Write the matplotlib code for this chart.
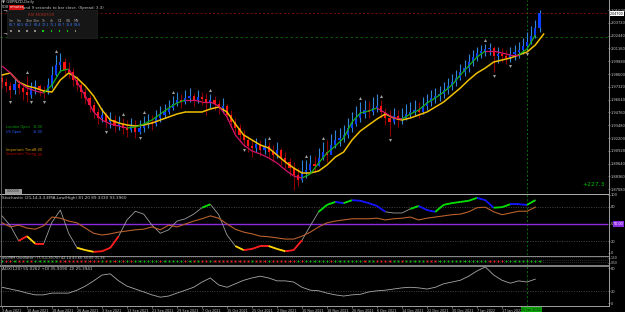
"""
GBPNZD daily chart, MetaTrader style: candles + 2 MAs, stochastic,
oscillator dots and ADX sub panels.
"""
import numpy as np
import matplotlib
matplotlib.use("Agg")
import matplotlib.pyplot as plt
from matplotlib.collections import LineCollection
from matplotlib.lines import Line2D
from matplotlib.patches import Rectangle

W, H = 625, 312
PLOT_R = 608          # right edge of chart area (px)
BAR_PX = 25 / 6.      # px per daily bar

#---------------------------------------------------------------- data
first_open = 1.982
bar_close = [1.978, 1.974, 1.970, 1.976, 1.972, 1.968, 1.965, 1.972, 1.974, 1.970,
             1.968, 1.975, 1.985, 1.995, 1.998, 1.990, 1.988, 1.980, 1.975, 1.968,
             1.962, 1.955, 1.948, 1.942, 1.945, 1.938, 1.940, 1.934, 1.936, 1.932,
             1.930, 1.934, 1.928, 1.932, 1.935, 1.938, 1.936, 1.942, 1.945, 1.948,
             1.952, 1.956, 1.960, 1.958, 1.962, 1.964, 1.960, 1.963, 1.961, 1.958,
             1.960, 1.956, 1.952, 1.954, 1.945, 1.938, 1.932, 1.925, 1.920, 1.914,
             1.912, 1.916, 1.910, 1.914, 1.908, 1.905, 1.910, 1.902, 1.898, 1.892,
             1.885, 1.880, 1.888, 1.890, 1.896, 1.894, 1.902, 1.908, 1.905, 1.915,
             1.920, 1.922, 1.925, 1.932, 1.936, 1.942, 1.946, 1.950, 1.948, 1.952,
             1.954, 1.948, 1.942, 1.938, 1.944, 1.940, 1.942, 1.946, 1.948, 1.950,
             1.948, 1.954, 1.958, 1.962, 1.964, 1.966, 1.970, 1.974, 1.978, 1.982,
             1.988, 1.992, 1.998, 2.003, 2.007, 2.009, 2.011, 2.012, 2.004, 2.006,
             2.004, 2.002, 2.006, 2.008, 2.010, 2.014, 2.018, 2.024, 2.032, 2.047]
bar_high = [1.986, 1.982, 1.978, 1.982, 1.980, 1.976, 1.984, 1.978, 1.980, 1.976,
            1.974, 1.982, 1.994, 2.005, 2.007, 2.002, 1.998, 1.992, 1.984, 1.978,
            1.972, 1.965, 1.958, 1.952, 1.952, 1.948, 1.948, 1.945, 1.944, 1.942,
            1.940, 1.942, 1.940, 1.940, 1.944, 1.946, 1.945, 1.950, 1.954, 1.956,
            1.960, 1.964, 1.968, 1.966, 1.970, 1.972, 1.967, 1.970, 1.968, 1.967,
            1.966, 1.964, 1.960, 1.962, 1.956, 1.950, 1.942, 1.936, 1.930, 1.924,
            1.920, 1.922, 1.920, 1.922, 1.918, 1.915, 1.918, 1.912, 1.908, 1.902,
            1.898, 1.892, 1.900, 1.900, 1.905, 1.904, 1.912, 1.918, 1.920, 1.926,
            1.930, 1.932, 1.935, 1.942, 1.948, 1.954, 1.958, 1.960, 1.959, 1.963,
            1.966, 1.960, 1.952, 1.950, 1.952, 1.950, 1.952, 1.956, 1.958, 1.960,
            1.958, 1.963, 1.966, 1.970, 1.972, 1.974, 1.978, 1.982, 1.986, 1.990,
            1.996, 2.000, 2.006, 2.010, 2.013, 2.015, 2.016, 2.017, 2.014, 2.013,
            2.012, 2.010, 2.013, 2.015, 2.018, 2.022, 2.028, 2.034, 2.040, 2.050]
bar_low = [1.972, 1.968, 1.962, 1.966, 1.966, 1.960, 1.958, 1.962, 1.966, 1.964,
           1.962, 1.966, 1.972, 1.984, 1.988, 1.984, 1.982, 1.974, 1.970, 1.962,
           1.956, 1.948, 1.942, 1.936, 1.938, 1.932, 1.932, 1.928, 1.930, 1.926,
           1.923, 1.928, 1.922, 1.926, 1.928, 1.932, 1.930, 1.934, 1.938, 1.942,
           1.946, 1.950, 1.954, 1.952, 1.956, 1.958, 1.954, 1.957, 1.955, 1.945,
           1.952, 1.950, 1.946, 1.947, 1.940, 1.932, 1.926, 1.918, 1.914, 1.908,
           1.903, 1.908, 1.904, 1.906, 1.902, 1.898, 1.902, 1.895, 1.890, 1.884,
           1.870, 1.874, 1.878, 1.882, 1.888, 1.888, 1.894, 1.900, 1.898, 1.906,
           1.912, 1.914, 1.918, 1.922, 1.928, 1.934, 1.938, 1.942, 1.942, 1.945,
           1.948, 1.942, 1.935, 1.924, 1.936, 1.933, 1.936, 1.940, 1.942, 1.944,
           1.942, 1.946, 1.950, 1.954, 1.957, 1.959, 1.962, 1.966, 1.970, 1.974,
           1.980, 1.984, 1.988, 1.994, 1.999, 2.002, 2.004, 2.005, 1.988, 1.997,
           1.998, 1.996, 1.998, 2.000, 2.002, 2.006, 2.010, 2.016, 2.022, 2.028]

# moving averages, read every 2nd bar
ma_fast = [1.994, 1.987, 1.978, 1.972, 1.969, 1.967, 1.975, 1.989, 1.991, 1.978,
           1.964, 1.948, 1.940, 1.936, 1.934, 1.932, 1.933, 1.936, 1.940, 1.946,
           1.952, 1.957, 1.960, 1.960, 1.958, 1.958, 1.954, 1.943, 1.925, 1.915,
           1.909, 1.906, 1.902, 1.897, 1.890, 1.884, 1.882, 1.886, 1.897, 1.907,
           1.914, 1.922, 1.938, 1.947, 1.949, 1.952, 1.947, 1.942, 1.941, 1.946,
           1.950, 1.957, 1.962, 1.968, 1.975, 1.985, 1.994, 2.003, 2.009, 2.009,
           2.007, 2.005, 2.005, 2.011, 2.025]
ma_slow = [1.985, 1.987, 1.978, 1.974, 1.972, 1.969, 1.968, 1.980, 1.987, 1.982,
           1.974, 1.964, 1.950, 1.940, 1.937, 1.935, 1.934, 1.935, 1.937, 1.940,
           1.943, 1.946, 1.948, 1.948, 1.948, 1.951, 1.953, 1.948, 1.936, 1.925,
           1.920, 1.915, 1.912, 1.905, 1.898, 1.892, 1.887, 1.887, 1.889, 1.895,
           1.903, 1.908, 1.920, 1.929, 1.935, 1.941, 1.946, 1.942, 1.940, 1.942,
           1.945, 1.948, 1.953, 1.958, 1.965, 1.972, 1.980, 1.987, 1.992, 1.998,
           2.000, 2.002, 2.005, 2.008, 2.015, 2.026]

up_fractals = [6, 13, 29, 34, 41, 50, 64, 73, 77, 86, 91, 116]
down_fractals = [2, 7, 10, 25, 33, 58, 93, 118, 122, 126]

# stochastic / ADX, read every 2nd bar
stoch_main = [64, 47, 21, 29, 16, 16, 53, 74, 34, 9,
              5, 2, 3, 9, 29, 57, 72, 67, 48, 34,
              40, 55, 59, 67, 78, 84, 66, 31, 12, 5,
              7, 12, 12, 7, 3, 5, 22, 47, 71, 83,
              88, 86, 91, 90, 86, 81, 71, 69, 69, 76,
              81, 74, 71, 83, 86, 88, 90, 95, 91, 78,
              79, 84, 84, 83, 91]
stoch_signal = [52, 45, 48, 43, 41, 47, 62, 60, 55, 52,
                43, 34, 31, 33, 36, 38, 40, 41, 45, 40,
                48, 45, 50, 55, 59, 64, 60, 50, 41, 36,
                33, 29, 28, 26, 24, 24, 29, 36, 45, 52,
                55, 57, 59, 59, 59, 60, 57, 59, 60, 62,
                57, 60, 62, 64, 66, 67, 71, 78, 79, 71,
                66, 69, 72, 72, 79]
adx_line = [27, 24, 21, 17, 14, 14, 17, 17, 17, 22,
            29, 38, 48, 50, 38, 29, 24, 19, 14, 10,
            12, 17, 22, 27, 36, 43, 31, 27, 33, 39,
            43, 46, 43, 38, 38, 36, 27, 22, 21, 17,
            14, 12, 14, 15, 19, 21, 22, 24, 26, 27,
            26, 24, 27, 33, 36, 39, 46, 55, 62, 48,
            39, 34, 38, 36, 41]
osc_dots = ("grrgrrgrgg" "ggggrrrrrr" "rrrrgrgrgr" "grggggggrg" "ggggrgrgrr"
            "grrrrrrrrr" "grrrgrrrrr" "rgrggggggr" "gggggggrgg" "rrrrggrggg"
            "ggrrrggggg" "gggggggrrr" "rggggggggg")

date_labels = ["3 Aug 2021", "10 Aug 2021", "18 Aug 2021", "26 Aug 2021", "3 Sep 2021",
               "13 Sep 2021", "21 Sep 2021", "29 Sep 2021", "7 Oct 2021", "15 Oct 2021",
               "25 Oct 2021", "2 Nov 2021", "10 Nov 2021", "18 Nov 2021", "26 Nov 2021",
               "6 Dec 2021", "14 Dec 2021", "22 Dec 2021", "30 Dec 2021", "7 Jan 2022",
               "17 Jan 2022"]
cursor_bar, cursor_label = 126, "25 Jan 2022"
price_ticks = [2.05000, 2.03720, 2.02440, 2.01160, 1.99880, 1.98600, 1.97320, 1.96040,
               1.94760, 1.93480, 1.92200, 1.90920, 1.89640, 1.88360, 1.87080]
last_price = 2.047
bid_line = 2.023

rsi_tf = ["1m", "5m", "15m", "30m", "1h", "4h", "D1", "W1", "MN"]
rsi_val = ["66.7", "64.5", "65.2", "68.4", "70.1", "75.1", "66.7", "76.8", "59.6"]
rsi_hot = [False, False, False, False, True, True, True, True, False]

#---------------------------------------------------------------- helpers
def fx(px): return px / W
def fy(py): return 1 - py / H

TXT = '#c8c8c8'
FS = 3.0      # general small text
FR = 2.6      # right-hand scale labels

fig = plt.figure(figsize=(W / 100, H / 100), dpi=100, facecolor='black')

def panel(top, bottom):
    ax = fig.add_axes([0, fy(bottom), fx(PLOT_R), (bottom - top) / H])
    ax.set_facecolor('black')
    ax.set_xlim(-2 / BAR_PX, (PLOT_R - 2) / BAR_PX)
    ax.set_xticks([])
    for s in ax.spines.values():
        s.set_visible(False)
    ax.yaxis.tick_right()
    ax.tick_params(axis='y', length=1.2, width=0.4, colors=TXT, labelsize=FR, pad=0.8)
    ax.axvline(cursor_bar, color='#0b7a0b', ls=(0, (2.5, 2.5)), lw=0.6, zorder=1)
    return ax

#---------------------------------------------------------------- main
ax = panel(0, 193)
ax.set_ylim(1.867, 2.060)
ax.set_yticks(price_ticks)
ax.set_yticklabels([f'{p:.5f}' for p in price_ticks])

bars = np.arange(len(bar_close))
c = np.array(bar_close)
o = np.r_[first_open, c[:-1]]
hi = np.array(bar_high)
lo = np.array(bar_low)
up = c >= o
for m, wick, body in [(up, '#2f86d8', '#0b3cff'), (~up, '#900000', '#ff1414')]:
    ax.vlines(bars[m], lo[m], hi[m], color=wick, lw=0.8, zorder=2)
    ax.bar(bars[m], np.maximum(np.abs(c - o)[m], 0.0008), bottom=np.minimum(o, c)[m],
           width=0.5, color=body, lw=0, zorder=2)

ax.axhline(last_price, color='#a01414', ls=(0, (3, 3)), lw=0.5, zorder=1)
ax.axhline(bid_line, color='#0b6a0b', ls=(0, (3, 3)), lw=0.6, zorder=1)

xs_slow = np.arange(0, 2 * len(ma_slow), 2)
ax.plot(xs_slow, ma_slow, color='#f0c000', lw=1.1, zorder=3)

xs_fast = np.arange(0, 2 * len(ma_fast), 2)
pts = np.column_stack([xs_fast, ma_fast])
segs = np.stack([pts[:-1], pts[1:]], axis=1)
cols = ['#16b016' if b > a else '#d0146c' for a, b in zip(ma_fast[:-1], ma_fast[1:])]
ax.add_collection(LineCollection(segs, colors=cols, lw=0.9, zorder=4))

ax.plot(up_fractals, hi[up_fractals] + 0.004, '^', ms=2.2, color='#a0a0a0', mew=0, zorder=5)
ax.plot(down_fractals, lo[down_fractals] - 0.004, 'v', ms=2.2, color='#a0a0a0', mew=0, zorder=5)

ax.text(1.003, last_price - 0.0005, f'{last_price:.5f}', transform=ax.get_yaxis_transform(),
        fontsize=2.3, color='black', va='center', ha='left', clip_on=False,
        bbox=dict(facecolor='white', edgecolor='none', pad=0.15))
ax.text(550, last_price, '-508.9 (3.3)', fontsize=4, color='#d8d8d8', va='center')
fig.text(fx(582), fy(184), '+227.3', fontsize=4.3, color='#00c000', va='center')

# header lines
fig.text(fx(2), fy(2.5), '\u25bc GBPNZD,Daily', fontsize=2.8, color=TXT, va='center')
fig.text(fx(2), fy(7.5), '508', fontsize=2.8, color=TXT, va='center')
fig.text(fx(9.5), fy(7.5), 'minutes', fontsize=2.5, color='white', va='center',
         bbox=dict(facecolor='#d01010', edgecolor='none', pad=0.3))
fig.text(fx(23), fy(7.5), 'and 9 seconds to bar close. (Spread: 3.3)', fontsize=2.8,
         color=TXT, va='center')
for py in (12, 35):
    fig.text(fx(2), fy(py), '\u00ac', fontsize=4, color='white', va='center')

# RSI monitor box
fig.add_artist(Rectangle((fx(7), fy(38)), fx(90), 28 / H, facecolor='#161616',
                         edgecolor='#262626', lw=0.4))
fig.text(fx(41), fy(15), 'RSI MONITOR', fontsize=2.8, color='#a8301c', ha='center', va='center')
for i, (tf, val, hot) in enumerate(zip(rsi_tf, rsi_val, rsi_hot)):
    px = 9 + i * 8.1
    fig.text(fx(px), fy(21), tf, fontsize=2.3, color='#a0a0a0', va='center')
    fig.text(fx(px), fy(25.5), val, fontsize=2.3, color='#3c78ff', va='center')
    fig.add_artist(Rectangle((fx(px + 1), fy(32)), fx(1.6), 1.6 / H,
                             facecolor='#10d010' if hot else '#8a8a8a', edgecolor='none'))

# session labels
for py, a, b, col in [(127, 'London Open', '18:00', '#10a010'),
                      (132, 'US Open', '15:00', '#2a5cff'),
                      (149.5, 'Important Time', '08:00', '#e0a000'),
                      (154.5, 'Important Time', '16:00', '#c00000')]:
    fig.text(fx(6), fy(py), a, fontsize=2.5, color=col, va='center')
    fig.text(fx(33), fy(py), b, fontsize=2.5, color=col, va='center')

fig.add_artist(Rectangle((fx(5), fy(194)), fx(17), 5 / H, facecolor='#9a9a9a', edgecolor='none'))
fig.text(fx(13.5), fy(191.5), '000000', fontsize=2.4, color='#303030', ha='center', va='center')

#---------------------------------------------------------------- stochastic
ax2 = panel(194, 255)
ax2.set_ylim(-3.45, 101.7)
ax2.set_yticks([0, 20, 50, 80, 100])
ax2.set_yticklabels(['0', '20', '50', '80', '100'])
for lv in (20, 80):
    ax2.axhline(lv, color='#5a5a5a', ls=(0, (1.5, 2)), lw=0.5)
ax2.axhline(50, color='#8a2be2', lw=1.0)
ax2.text(614 / PLOT_R, 50, '50.00', transform=ax2.get_yaxis_transform(), fontsize=2.4,
         color='white', va='center', ha='left', clip_on=False,
         bbox=dict(facecolor='#8a2be2', edgecolor='none', pad=0.4))

xs = np.arange(0, 2 * len(stoch_main), 2)
k = np.array(stoch_main, float)
ax2.plot(xs, k, color='#9c9c9c', lw=0.6)
ax2.plot(xs, stoch_signal, color='#b8602c', lw=0.8)
hsegs, hcols = [], []
for i in range(len(k) - 1):
    a, b = k[i], k[i + 1]
    if min(a, b) >= 70:
        hsegs.append([(xs[i], a), (xs[i + 1], b)])
        hcols.append('#00e000' if b > a else '#1010ff')
    elif max(a, b) <= 30:
        hsegs.append([(xs[i], a), (xs[i + 1], b)])
        hcols.append('#ffd400' if b < a else '#ff1a1a')
ax2.add_collection(LineCollection(hsegs, colors=hcols, lw=1.3, zorder=4))
fig.text(fx(2), fy(197.5), 'Stochastic (21,14,3,3,EMA,Low/High) 81.20 89.3330 93.3960',
         fontsize=FS, color=TXT, va='center')

#---------------------------------------------------------------- oscillator dots
ax3 = panel(256, 265)
ax3.set_ylim(0, 9)
ax3.set_yticks([7.5, 2.5])
ax3.set_yticklabels(['1.50', '0.50'])
ax3.tick_params(axis='y', labelsize=2.2)
for lv in (8, 5, 3):
    ax3.axhline(lv, color='#5a5a5a', ls=(0, (1.5, 2)), lw=0.4)
dot_col = np.array(['#ff2020' if d == 'r' else '#10c010' for d in osc_dots])
ax3.scatter(np.arange(len(osc_dots)), np.full(len(osc_dots), 4.0), marker='+', s=2.5,
            c=dot_col, linewidths=0.6, zorder=3)
fig.text(fx(2), fy(257.6), 'osc/MM Oscillator : (7,3,1,30,70) 42.14 43.60 30.00 31.26',
         fontsize=2.5, color=TXT, va='center')

#---------------------------------------------------------------- ADX
ax4 = panel(266, 306)
ax4.set_ylim(-5.1, 63.5)
ax4.set_yticks([0, 20, 60])
ax4.set_yticklabels(['0', '20', '60'])
ax4.axhline(20, color='#5a5a5a', ls=(0, (1.5, 2)), lw=0.5)
ax4.plot(np.arange(0, 2 * len(adx_line), 2), adx_line, color='#a8a8a8', lw=0.6)
fig.text(fx(2), fy(269.5), 'ADX(120) 55.0262 +DI 35.9090 -DI 25.3941',
         fontsize=FS, color=TXT, va='center')

ax4.set_xticks(np.arange(0, 6 * len(date_labels), 6))
ax4.set_xticklabels(date_labels, ha='left')
ax4.tick_params(axis='x', length=1.5, width=0.4, colors=TXT, labelsize=2.4, pad=0.8)
ax4.text(cursor_bar + 1, -0.09, cursor_label, transform=ax4.get_xaxis_transform(),
         fontsize=2.3, color='#0a300a', ha='center', va='center', clip_on=False,
         bbox=dict(facecolor='#0aa00a', edgecolor='none', pad=0.4))

#---------------------------------------------------------------- frame lines
for py, col, lw in [(193.5, '#b0b0b0', 0.7), (255.5, '#8c8c8c', 0.7),
                    (265.5, '#808080', 1.4), (306, '#a0a0a0', 0.7)]:
    fig.add_artist(Line2D([0, fx(PLOT_R)], [fy(py), fy(py)], color=col, lw=lw))
fig.add_artist(Line2D([fx(PLOT_R + 0.5)] * 2, [fy(0), fy(306)], color='#a0a0a0', lw=0.7))
fig.add_artist(Line2D([fx(0.5)] * 2, [fy(0), fy(306)], color='#707070', lw=0.6))

fig.savefig('out.png', dpi=100, facecolor='black')
